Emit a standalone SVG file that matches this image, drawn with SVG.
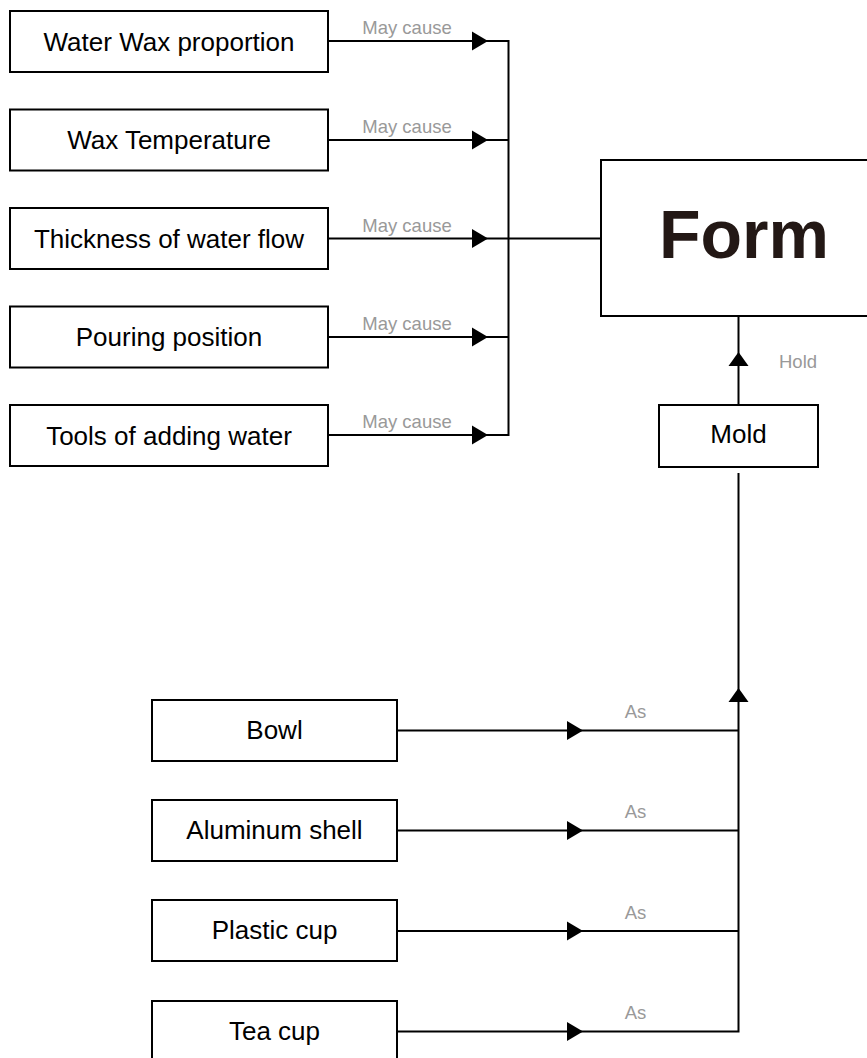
<svg xmlns="http://www.w3.org/2000/svg" xmlns:xlink="http://www.w3.org/1999/xlink" width="867" height="1058" viewBox="0 0 867 1058">
<style>
.box{fill:#fff;stroke:#000;stroke-width:2}
.lbl{font-family:"Liberation Sans",Arial,Helvetica,sans-serif;font-size:26px;fill:#000;text-anchor:middle}
.edge{font-family:"Liberation Sans",Arial,Helvetica,sans-serif;font-size:18.5px;fill:#999;text-anchor:middle}
.ln{fill:none;stroke:#000;stroke-width:2}
.big{font-family:"Liberation Sans",Arial,Helvetica,sans-serif;font-size:68px;font-weight:bold;fill:#231815;text-anchor:middle}
</style>
<defs>
<path id="arR" d="M0,-9.5 L16,0 L0,9.5 Z" fill="#000"/>
<path id="arU" d="M-10,14 L0,0 L10,14 Z" fill="#000"/>
</defs>
<rect width="867" height="1058" fill="#fff"/>
<g id="connectors">
<path class="ln" d="M328,41 H508.5 M328,140 H508.5 M328,238.5 H601 M328,337 H508.5 M328,435 H508.5 M508.5,40 V436"/>
<use xlink:href="#arR" x="472" y="41"/>
<use xlink:href="#arR" x="472" y="140"/>
<use xlink:href="#arR" x="472" y="238.5"/>
<use xlink:href="#arR" x="472" y="337"/>
<use xlink:href="#arR" x="472" y="435"/>
<text class="edge" x="407" y="34">May cause</text>
<text class="edge" x="407" y="133">May cause</text>
<text class="edge" x="407" y="231.5">May cause</text>
<text class="edge" x="407" y="330">May cause</text>
<text class="edge" x="407" y="428">May cause</text>
<path class="ln" d="M738.5,405 V316"/>
<use xlink:href="#arU" x="738.5" y="352"/>
<text class="edge" x="779" y="368" style="text-anchor:start">Hold</text>
<path class="ln" d="M738.5,473 V1032.5 M397,730.5 H738.5 M397,830.5 H738.5 M397,931 H738.5 M397,1031.5 H738.5"/>
<use xlink:href="#arU" x="738.5" y="688"/>
<use xlink:href="#arR" x="567" y="730.5"/>
<use xlink:href="#arR" x="567" y="830.5"/>
<use xlink:href="#arR" x="567" y="931"/>
<use xlink:href="#arR" x="567" y="1031.5"/>
<text class="edge" x="635.5" y="718">As</text>
<text class="edge" x="635.5" y="818">As</text>
<text class="edge" x="635.5" y="918.5">As</text>
<text class="edge" x="635.5" y="1019">As</text>
</g>
<g id="n-water-wax"><rect class="box" x="10" y="11" width="318" height="61"/><text class="lbl" x="169" y="50.5">Water Wax proportion</text></g>
<g id="n-wax-temp"><rect class="box" x="10" y="109.5" width="318" height="61"/><text class="lbl" x="169" y="149">Wax Temperature</text></g>
<g id="n-thickness"><rect class="box" x="10" y="208" width="318" height="61"/><text class="lbl" x="169" y="247.5">Thickness of water flow</text></g>
<g id="n-pouring"><rect class="box" x="10" y="306.5" width="318" height="61"/><text class="lbl" x="169" y="346">Pouring position</text></g>
<g id="n-tools"><rect class="box" x="10" y="405" width="318" height="61"/><text class="lbl" x="169" y="444.5">Tools of adding water</text></g>
<g id="n-form"><rect class="box" x="601" y="160" width="288" height="156"/><text class="big" x="744" y="258">Form</text></g>
<g id="n-mold"><rect class="box" x="659" y="405" width="159" height="62"/><text class="lbl" x="738.5" y="442.5">Mold</text></g>
<g id="n-bowl"><rect class="box" x="152" y="700" width="245" height="61"/><text class="lbl" x="274.5" y="738.5">Bowl</text></g>
<g id="n-aluminum"><rect class="box" x="152" y="800" width="245" height="61"/><text class="lbl" x="274.5" y="838.5">Aluminum shell</text></g>
<g id="n-plastic"><rect class="box" x="152" y="900" width="245" height="61"/><text class="lbl" x="274.5" y="939">Plastic cup</text></g>
<g id="n-teacup"><rect class="box" x="152" y="1001" width="245" height="61"/><text class="lbl" x="274.5" y="1039.5">Tea cup</text></g>
</svg>
